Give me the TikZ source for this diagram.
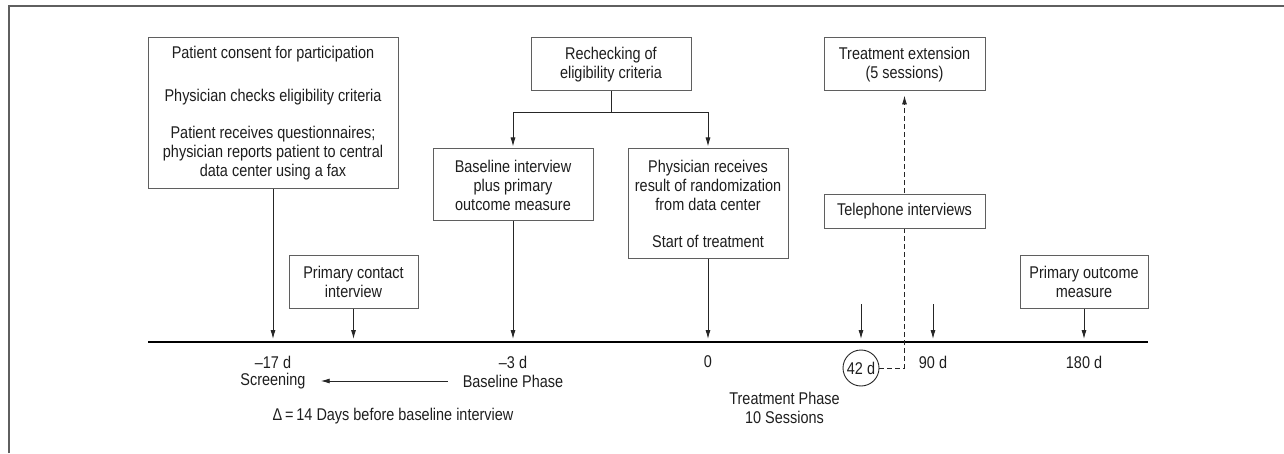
\documentclass[tikz,border=0pt]{standalone}
\usepackage{fontspec}
\setmainfont{Liberation Sans}[FakeStretch=0.85]
\usetikzlibrary{arrows.meta}

\definecolor{boxgray}{RGB}{95,95,95}
\definecolor{txt}{RGB}{30,30,30}
\tikzset{
  box/.style={draw=boxgray,line width=1pt,fill=white,align=center,inner sep=0pt,
    text=txt,font=\fontsize{17}{19}\selectfont},
  lbl/.style={inner sep=1pt,align=center,text=txt,font=\fontsize{17}{19}\selectfont},
  arr/.style={draw=black!85,line width=0.9pt,-{Latex[length=9pt,width=5pt]}},
}

\begin{document}
\begin{tikzpicture}[x=1pt,y=1pt]
    \useasboundingbox (0,0) rectangle (1284,453);
    % frame and time axis
    \draw[boxgray,line width=1.5pt] (9,0) -- (9,447) -- (1284,447);
    \draw[black,line width=2pt] (148,111) -- (1148,111);
    \coordinate (t17) at (273,111);
    \coordinate (tpc) at (353.5,111);
    \coordinate (t3) at (513,111);
    \coordinate (t0) at (708,111);
    \coordinate (t42) at (861,111);
    \coordinate (t90) at (933,111);
    \coordinate (t180) at (1084,111);
    \coordinate (s42) at (861,149);
    \coordinate (s90) at (933,149);
    % boxes
    \node[box,minimum width=250pt,minimum height=151pt] (consent) at (273,339.5)
        {Patient consent for participation\\[24pt]
         Physician checks eligibility criteria\\[18pt]
         Patient receives questionnaires;\\
         physician reports patient to central\\
         data center using a fax};
    \node[box,minimum width=129pt,minimum height=53pt] (contact) at (353.5,171.5)
        {Primary contact\\interview};
    \node[box,minimum width=160pt,minimum height=53pt] (recheck) at (611,388.5)
        {Rechecking of\\eligibility criteria};
    \node[box,minimum width=160pt,minimum height=72pt] (baseline) at (513,268)
        {Baseline interview\\plus primary\\outcome measure};
    \node[box,minimum width=160pt,minimum height=109pt] (random) at (708,249.5)
        {Physician receives\\result of randomization\\from data center\\[18pt]
         Start of treatment};
    \node[box,minimum width=161pt,minimum height=53pt] (extension) at (904.5,388.5)
        {Treatment extension\\(5 sessions)};
    \node[box,minimum width=128pt,minimum height=53pt] (outcome) at (1084,171.5)
        {Primary outcome\\measure};
    \node[draw=black!85,line width=0.9pt,circle,minimum size=36pt,inner sep=0pt,
        text=txt,font=\fontsize{17}{19}\selectfont] (c42) at (861,85) {42 d};
    % dashed path to the extension
    \draw[arr,dashed,dash pattern=on 5pt off 3pt,shorten >=4pt] (c42.east) -| (extension.south);
    \node[box,minimum width=161pt,minimum height=33pt] (phone) at (904.5,241.5)
        {Telephone interviews};
    % labels below the axis
    \node[lbl] (d17) at (273,91) {--17 d};
    \node[lbl] (screen) at (273,72) {Screening};
    \node[lbl] (d3) at (513,91) {--3 d};
    \node[lbl] (basephase) at (513,72) {Baseline Phase};
    \node[lbl] (d0) at (708,91) {0};
    \node[lbl] (d90) at (933,91) {90 d};
    \node[lbl] (d180) at (1084,91) {180 d};
    \node[lbl] (delta) at (393,37) {Δ\,=\,14 Days before baseline interview};
    \node[lbl] (treatphase) at (784.5,45.5) {Treatment Phase\\10 Sessions};
    % connectors
    \draw[arr,shorten >=3pt] (consent.south) -- (t17);
    \draw[arr,shorten >=3pt] (contact.south) -- (tpc);
    \draw[arr,shorten >=3pt] (baseline.south) -- (t3);
    \draw[arr,shorten >=3pt] (random.south) -- (t0);
    \draw[arr,shorten >=3pt] (outcome.south) -- (t180);
    \draw[arr,shorten >=3pt] (s42) -- (t42);
    \draw[arr,shorten >=3pt] (s90) -- (t90);
    \draw[draw=black!85,line width=0.9pt] (recheck.south) -- ++(0,-21) coordinate (fork);
    \draw[arr,shorten >=2pt] (fork) -| (baseline.north);
    \draw[arr,shorten >=2pt] (fork) -| (random.north);
    \draw[arr,shorten <=14pt,shorten >=14pt] (basephase.west) -- (screen.east);
\end{tikzpicture}
\end{document}
